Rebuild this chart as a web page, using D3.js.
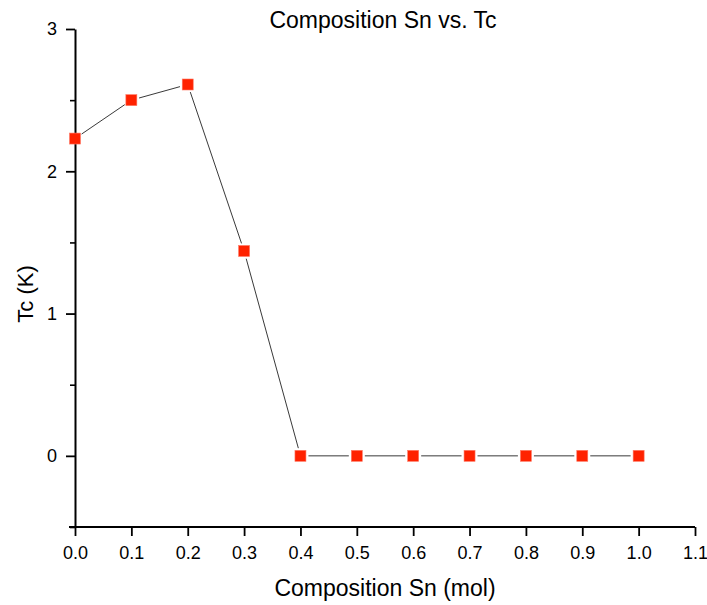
<!DOCTYPE html>
<html>
<head>
<meta charset="utf-8">
<script src="https://cdn.jsdelivr.net/npm/d3@7"></script>
<style>
  body { margin: 0; background: #fff; }
  text { font-family: "Liberation Sans", Arial, sans-serif; fill: #000; }
  .tick text { font-size: 18px !important; font-family: "Liberation Sans", Arial, sans-serif !important; }
</style>
</head>
<body>
<svg width="707" height="605"></svg>
<script>
const composition = [0.0, 0.1, 0.2, 0.3, 0.4, 0.5, 0.6, 0.7, 0.8, 0.9, 1.0];
const tc = [2.23, 2.50, 2.61, 1.44, 0, 0, 0, 0, 0, 0, 0];
const xTicks = [0.0, 0.1, 0.2, 0.3, 0.4, 0.5, 0.6, 0.7, 0.8, 0.9, 1.0, 1.1];
const yTicks = [0, 1, 2, 3];
const yMinor = [-0.5, 0.5, 1.5, 2.5];

const data = composition.map((c, i) => ({x: c, y: tc[i]}));

const svg = d3.select("svg"),
    margin = {top: 29, right: 12, bottom: 78, left: 75},
    width = 707 - margin.left - margin.right,
    height = 605 - margin.top - margin.bottom,
    g = svg.append("g").attr("transform", "translate(" + margin.left + "," + margin.top + ")");

const x = d3.scaleLinear().domain([0, 1.1]).range([0, width]);
const y = d3.scaleLinear().domain([-0.5, 3]).range([height, 0]);

// minor y ticks
g.append("g")
    .call(d3.axisLeft(y).tickValues(yMinor).tickSize(5).tickFormat(""))
    .call(a => a.select(".domain").remove())
    .selectAll("line").attr("stroke-width", 1.6);

// y axis
const ya = g.append("g")
    .call(d3.axisLeft(y).tickValues(yTicks).tickSize(9).tickSizeOuter(0).tickPadding(9).tickFormat(d3.format("d")));
ya.selectAll("line").attr("stroke-width", 1.8);
ya.select(".domain").attr("stroke-width", 2);

// x axis
const xa = g.append("g")
    .attr("transform", "translate(0," + height + ")")
    .call(d3.axisBottom(x).tickValues(xTicks).tickSize(9).tickSizeOuter(0).tickPadding(10).tickFormat(d3.format(".1f")));
xa.selectAll("line").attr("stroke-width", 1.8);
xa.select(".domain").attr("stroke-width", 2).attr("d", "M-6,0H" + width);

// connecting line segments with gaps around markers
const gap = 8;
for (let i = 0; i < data.length - 1; i++) {
  const x1 = x(data[i].x), y1 = y(data[i].y), x2 = x(data[i + 1].x), y2 = y(data[i + 1].y);
  const len = Math.hypot(x2 - x1, y2 - y1), ux = (x2 - x1) / len, uy = (y2 - y1) / len;
  g.append("line")
      .attr("x1", x1 + ux * gap).attr("y1", y1 + uy * gap)
      .attr("x2", x2 - ux * gap).attr("y2", y2 - uy * gap)
      .attr("stroke", "#222")
      .attr("stroke-width", 0.9);
}

// markers
const s = 11;
g.selectAll(".pt")
    .data(data)
  .enter().append("rect")
    .attr("class", "pt")
    .attr("x", d => x(d.x) - s / 2)
    .attr("y", d => y(d.y) - s / 2)
    .attr("width", s)
    .attr("height", s)
    .attr("fill", "#ff2200")
    .attr("stroke", "#ff7a66")
    .attr("stroke-width", 0.6);

// title
svg.append("text")
    .attr("x", 383).attr("y", 28)
    .style("text-anchor", "middle")
    .style("font-size", "23px")
    .text("Composition Sn vs. Tc");

// x label
svg.append("text")
    .attr("x", 385).attr("y", 596)
    .style("text-anchor", "middle")
    .style("font-size", "23px")
    .text("Composition Sn (mol)");

// y label
svg.append("text")
    .attr("transform", "translate(33," + 294 + ") rotate(-90)")
    .style("text-anchor", "middle")
    .style("font-size", "22px")
    .text("Tc (K)");
</script>
</body>
</html>
